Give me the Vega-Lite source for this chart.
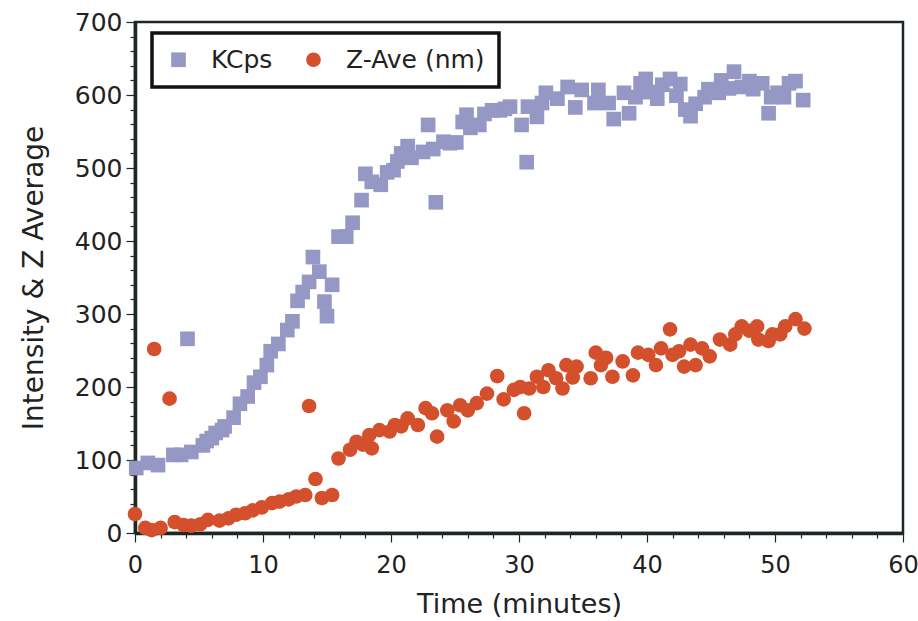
{
  "$schema": "https://vega.github.io/schema/vega-lite/v6.json",
  "width": 768,
  "height": 511,
  "autosize": "none",
  "padding": {"left": 135, "top": 22, "right": 15, "bottom": 88},
  "background": "white",
  "config": {
    "view": {"stroke": "#1d2824", "strokeWidth": 2.5},
    "font": "DejaVu Sans"
  },
  "data": {
    "values": [
      {"t":0.1,"v":89,"s":"KCps"},{"t":1.0,"v":96,"s":"KCps"},{"t":1.8,"v":93,"s":"KCps"},{"t":3.0,"v":107,"s":"KCps"},{"t":3.6,"v":107,"s":"KCps"},{"t":4.1,"v":266,"s":"KCps"},{"t":4.4,"v":111,"s":"KCps"},{"t":5.3,"v":120,"s":"KCps"},{"t":5.6,"v":126,"s":"KCps"},{"t":6.0,"v":130,"s":"KCps"},{"t":6.3,"v":137,"s":"KCps"},{"t":6.8,"v":141,"s":"KCps"},{"t":7.0,"v":146,"s":"KCps"},{"t":7.7,"v":158,"s":"KCps"},{"t":8.2,"v":177,"s":"KCps"},{"t":8.8,"v":187,"s":"KCps"},{"t":9.3,"v":206,"s":"KCps"},{"t":9.8,"v":214,"s":"KCps"},{"t":10.3,"v":230,"s":"KCps"},{"t":10.6,"v":249,"s":"KCps"},{"t":11.2,"v":259,"s":"KCps"},{"t":11.9,"v":278,"s":"KCps"},{"t":12.3,"v":290,"s":"KCps"},{"t":12.7,"v":318,"s":"KCps"},{"t":13.1,"v":330,"s":"KCps"},{"t":13.6,"v":344,"s":"KCps"},{"t":13.9,"v":378,"s":"KCps"},{"t":14.4,"v":358,"s":"KCps"},{"t":14.8,"v":317,"s":"KCps"},{"t":15.0,"v":297,"s":"KCps"},{"t":15.4,"v":340,"s":"KCps"},{"t":15.9,"v":406,"s":"KCps"},{"t":16.5,"v":406,"s":"KCps"},{"t":17.0,"v":425,"s":"KCps"},{"t":17.7,"v":456,"s":"KCps"},{"t":18.0,"v":492,"s":"KCps"},{"t":18.5,"v":481,"s":"KCps"},{"t":19.2,"v":477,"s":"KCps"},{"t":19.7,"v":494,"s":"KCps"},{"t":20.2,"v":497,"s":"KCps"},{"t":20.5,"v":509,"s":"KCps"},{"t":20.8,"v":520,"s":"KCps"},{"t":21.3,"v":530,"s":"KCps"},{"t":21.6,"v":514,"s":"KCps"},{"t":22.5,"v":522,"s":"KCps"},{"t":22.9,"v":559,"s":"KCps"},{"t":23.3,"v":526,"s":"KCps"},{"t":23.5,"v":453,"s":"KCps"},{"t":24.1,"v":536,"s":"KCps"},{"t":24.6,"v":534,"s":"KCps"},{"t":25.1,"v":535,"s":"KCps"},{"t":25.6,"v":563,"s":"KCps"},{"t":25.9,"v":573,"s":"KCps"},{"t":26.2,"v":555,"s":"KCps"},{"t":26.9,"v":559,"s":"KCps"},{"t":27.3,"v":574,"s":"KCps"},{"t":27.9,"v":579,"s":"KCps"},{"t":28.5,"v":579,"s":"KCps"},{"t":28.9,"v":581,"s":"KCps"},{"t":29.3,"v":584,"s":"KCps"},{"t":30.2,"v":559,"s":"KCps"},{"t":30.6,"v":508,"s":"KCps"},{"t":30.7,"v":584,"s":"KCps"},{"t":31.4,"v":570,"s":"KCps"},{"t":31.8,"v":589,"s":"KCps"},{"t":32.1,"v":603,"s":"KCps"},{"t":33.0,"v":595,"s":"KCps"},{"t":33.8,"v":611,"s":"KCps"},{"t":34.4,"v":583,"s":"KCps"},{"t":34.9,"v":607,"s":"KCps"},{"t":35.9,"v":589,"s":"KCps"},{"t":36.2,"v":607,"s":"KCps"},{"t":37.0,"v":589,"s":"KCps"},{"t":37.4,"v":567,"s":"KCps"},{"t":38.2,"v":603,"s":"KCps"},{"t":38.6,"v":575,"s":"KCps"},{"t":39.1,"v":597,"s":"KCps"},{"t":39.5,"v":616,"s":"KCps"},{"t":39.9,"v":622,"s":"KCps"},{"t":40.2,"v":604,"s":"KCps"},{"t":40.8,"v":595,"s":"KCps"},{"t":41.2,"v":614,"s":"KCps"},{"t":41.8,"v":622,"s":"KCps"},{"t":42.3,"v":599,"s":"KCps"},{"t":42.6,"v":615,"s":"KCps"},{"t":43.0,"v":580,"s":"KCps"},{"t":43.4,"v":571,"s":"KCps"},{"t":43.8,"v":588,"s":"KCps"},{"t":44.5,"v":597,"s":"KCps"},{"t":44.8,"v":608,"s":"KCps"},{"t":45.6,"v":603,"s":"KCps"},{"t":45.8,"v":620,"s":"KCps"},{"t":46.4,"v":609,"s":"KCps"},{"t":46.8,"v":632,"s":"KCps"},{"t":47.4,"v":611,"s":"KCps"},{"t":48.0,"v":619,"s":"KCps"},{"t":48.3,"v":608,"s":"KCps"},{"t":49.0,"v":616,"s":"KCps"},{"t":49.5,"v":575,"s":"KCps"},{"t":49.7,"v":597,"s":"KCps"},{"t":50.2,"v":603,"s":"KCps"},{"t":50.7,"v":597,"s":"KCps"},{"t":51.1,"v":616,"s":"KCps"},{"t":51.6,"v":619,"s":"KCps"},{"t":52.2,"v":593,"s":"KCps"},
      {"t":0.0,"v":26,"s":"Z-Ave (nm)"},{"t":0.8,"v":7,"s":"Z-Ave (nm)"},{"t":1.3,"v":4,"s":"Z-Ave (nm)"},{"t":1.5,"v":252,"s":"Z-Ave (nm)"},{"t":2.0,"v":7,"s":"Z-Ave (nm)"},{"t":2.7,"v":184,"s":"Z-Ave (nm)"},{"t":3.1,"v":15,"s":"Z-Ave (nm)"},{"t":3.8,"v":11,"s":"Z-Ave (nm)"},{"t":4.4,"v":10,"s":"Z-Ave (nm)"},{"t":5.1,"v":12,"s":"Z-Ave (nm)"},{"t":5.7,"v":18,"s":"Z-Ave (nm)"},{"t":6.6,"v":17,"s":"Z-Ave (nm)"},{"t":7.3,"v":20,"s":"Z-Ave (nm)"},{"t":7.9,"v":25,"s":"Z-Ave (nm)"},{"t":8.6,"v":27,"s":"Z-Ave (nm)"},{"t":9.2,"v":31,"s":"Z-Ave (nm)"},{"t":9.9,"v":35,"s":"Z-Ave (nm)"},{"t":10.7,"v":41,"s":"Z-Ave (nm)"},{"t":11.3,"v":43,"s":"Z-Ave (nm)"},{"t":12.0,"v":46,"s":"Z-Ave (nm)"},{"t":12.6,"v":50,"s":"Z-Ave (nm)"},{"t":13.3,"v":52,"s":"Z-Ave (nm)"},{"t":13.6,"v":174,"s":"Z-Ave (nm)"},{"t":14.1,"v":74,"s":"Z-Ave (nm)"},{"t":14.6,"v":48,"s":"Z-Ave (nm)"},{"t":15.4,"v":52,"s":"Z-Ave (nm)"},{"t":15.9,"v":102,"s":"Z-Ave (nm)"},{"t":16.8,"v":114,"s":"Z-Ave (nm)"},{"t":17.3,"v":125,"s":"Z-Ave (nm)"},{"t":17.8,"v":121,"s":"Z-Ave (nm)"},{"t":18.3,"v":134,"s":"Z-Ave (nm)"},{"t":18.5,"v":116,"s":"Z-Ave (nm)"},{"t":19.1,"v":141,"s":"Z-Ave (nm)"},{"t":19.9,"v":139,"s":"Z-Ave (nm)"},{"t":20.3,"v":148,"s":"Z-Ave (nm)"},{"t":20.8,"v":146,"s":"Z-Ave (nm)"},{"t":21.3,"v":157,"s":"Z-Ave (nm)"},{"t":22.1,"v":148,"s":"Z-Ave (nm)"},{"t":22.7,"v":171,"s":"Z-Ave (nm)"},{"t":23.2,"v":164,"s":"Z-Ave (nm)"},{"t":23.6,"v":132,"s":"Z-Ave (nm)"},{"t":24.4,"v":168,"s":"Z-Ave (nm)"},{"t":24.9,"v":153,"s":"Z-Ave (nm)"},{"t":25.4,"v":175,"s":"Z-Ave (nm)"},{"t":26.0,"v":168,"s":"Z-Ave (nm)"},{"t":26.7,"v":178,"s":"Z-Ave (nm)"},{"t":27.5,"v":191,"s":"Z-Ave (nm)"},{"t":28.3,"v":215,"s":"Z-Ave (nm)"},{"t":28.8,"v":183,"s":"Z-Ave (nm)"},{"t":29.6,"v":196,"s":"Z-Ave (nm)"},{"t":30.1,"v":200,"s":"Z-Ave (nm)"},{"t":30.4,"v":164,"s":"Z-Ave (nm)"},{"t":30.8,"v":198,"s":"Z-Ave (nm)"},{"t":31.4,"v":214,"s":"Z-Ave (nm)"},{"t":31.9,"v":200,"s":"Z-Ave (nm)"},{"t":32.3,"v":223,"s":"Z-Ave (nm)"},{"t":32.9,"v":212,"s":"Z-Ave (nm)"},{"t":33.4,"v":198,"s":"Z-Ave (nm)"},{"t":33.7,"v":230,"s":"Z-Ave (nm)"},{"t":34.2,"v":213,"s":"Z-Ave (nm)"},{"t":34.5,"v":228,"s":"Z-Ave (nm)"},{"t":35.6,"v":212,"s":"Z-Ave (nm)"},{"t":36.0,"v":247,"s":"Z-Ave (nm)"},{"t":36.4,"v":230,"s":"Z-Ave (nm)"},{"t":36.8,"v":240,"s":"Z-Ave (nm)"},{"t":37.3,"v":214,"s":"Z-Ave (nm)"},{"t":38.1,"v":235,"s":"Z-Ave (nm)"},{"t":38.9,"v":216,"s":"Z-Ave (nm)"},{"t":39.3,"v":247,"s":"Z-Ave (nm)"},{"t":40.1,"v":244,"s":"Z-Ave (nm)"},{"t":40.7,"v":230,"s":"Z-Ave (nm)"},{"t":41.1,"v":253,"s":"Z-Ave (nm)"},{"t":41.8,"v":279,"s":"Z-Ave (nm)"},{"t":42.0,"v":244,"s":"Z-Ave (nm)"},{"t":42.5,"v":249,"s":"Z-Ave (nm)"},{"t":42.9,"v":228,"s":"Z-Ave (nm)"},{"t":43.4,"v":258,"s":"Z-Ave (nm)"},{"t":43.8,"v":230,"s":"Z-Ave (nm)"},{"t":44.3,"v":253,"s":"Z-Ave (nm)"},{"t":44.9,"v":242,"s":"Z-Ave (nm)"},{"t":45.7,"v":265,"s":"Z-Ave (nm)"},{"t":46.5,"v":258,"s":"Z-Ave (nm)"},{"t":46.9,"v":272,"s":"Z-Ave (nm)"},{"t":47.4,"v":283,"s":"Z-Ave (nm)"},{"t":48.0,"v":277,"s":"Z-Ave (nm)"},{"t":48.6,"v":283,"s":"Z-Ave (nm)"},{"t":48.7,"v":265,"s":"Z-Ave (nm)"},{"t":49.5,"v":263,"s":"Z-Ave (nm)"},{"t":49.8,"v":272,"s":"Z-Ave (nm)"},{"t":50.4,"v":272,"s":"Z-Ave (nm)"},{"t":50.8,"v":283,"s":"Z-Ave (nm)"},{"t":51.6,"v":293,"s":"Z-Ave (nm)"},{"t":52.3,"v":280,"s":"Z-Ave (nm)"}
    ]
  },
  "mark": {"type": "point", "filled": true, "opacity": 1, "size": 215},
  "encoding": {
    "x": {
      "field": "t", "type": "quantitative",
      "scale": {"domain": [0, 60], "nice": false, "zero": false},
      "axis": {
        "title": "Time (minutes)",
        "values": [0,2,4,6,8,10,12,14,16,18,20,22,24,26,28,30,32,34,36,38,40,42,44,46,48,50,52,54,56,58,60],
        "labelExpr": "datum.value % 10 === 0 ? datum.label : ''",
        "grid": false,
        "domainColor": "#1d2824", "domainWidth": 3.5,
        "tickColor": "#1d2824", "tickWidth": 1.2,
        "tickSize": {"condition": {"test": "datum.value % 10 === 0", "value": 9}, "value": 5},
        "labelFont": "DejaVu Sans", "labelFontSize": 24, "labelColor": "#222",
        "labelPadding": 11, "labelFlush": false, "labelOverlap": false,
        "titleFont": "DejaVu Sans", "titleFontSize": 27, "titleFontWeight": "normal", "titleColor": "#222",
        "titlePadding": 14
      }
    },
    "y": {
      "field": "v", "type": "quantitative",
      "scale": {"domain": [0, 700], "nice": false},
      "axis": {
        "title": "Intensity & Z Average",
        "values": [0,20,40,60,80,100,120,140,160,180,200,220,240,260,280,300,320,340,360,380,400,420,440,460,480,500,520,540,560,580,600,620,640,660,680,700],
        "labelExpr": "datum.value % 100 === 0 ? datum.label : ''",
        "grid": false,
        "domainColor": "#1d2824", "domainWidth": 3.5,
        "tickColor": "#1d2824", "tickWidth": 1.2,
        "tickSize": {"condition": {"test": "datum.value % 100 === 0", "value": 9}, "value": 5},
        "labelFont": "DejaVu Sans", "labelFontSize": 25, "labelColor": "#222",
        "labelPadding": 4, "labelOverlap": false,
        "titleFont": "DejaVu Sans", "titleFontSize": 28, "titleFontWeight": "normal", "titleColor": "#222",
        "titlePadding": 26
      }
    },
    "color": {
      "field": "s", "type": "nominal",
      "scale": {"domain": ["KCps", "Z-Ave (nm)"], "range": ["#9597c4", "#d4502d"]},
      "legend": {
        "title": null,
        "orient": "none", "legendX": 17, "legendY": 11,
        "direction": "horizontal",
        "strokeColor": "#111", "padding": 14,
        "symbolSize": 215, "symbolOpacity": 1,
        "labelFont": "DejaVu Sans", "labelFontSize": 25, "labelColor": "#222",
        "labelOffset": 20, "columnPadding": 28,
        "encode": {"legend": {"update": {"strokeWidth": {"value": 3.5}}}}
      }
    },
    "shape": {
      "field": "s", "type": "nominal",
      "scale": {"domain": ["KCps", "Z-Ave (nm)"], "range": ["square", "circle"]}
    }
  }
}
